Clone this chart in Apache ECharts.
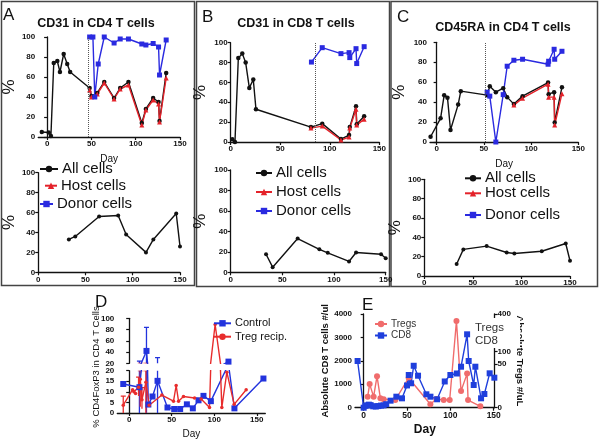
<!DOCTYPE html>
<html><head><meta charset="utf-8">
<script src="https://cdn.jsdelivr.net/npm/echarts@6/dist/echarts.min.js"></script>
<style>html,body{margin:0;padding:0;background:#fff}#c{width:600px;height:440px}</style>
</head><body><div id="c"></div>
<script>
// ---------- DATA ----------
// Panel A (CD31 in CD4 T cells)
const aAllDays  = [-6, 1.8, 4.3, 7.5, 11.5, 14.5, 18.7, 22.7, 26, 48, 50, 56.6, 64.5, 75.6, 82.5, 91.8, 106.9, 111.5, 119.7, 125.8, 126.9, 134.4];
const aAllVals  = [5, 4.5, 1, 74, 76, 65, 83, 73, 65, 49, 41, 44, 55, 39, 49, 55, 14, 28, 39, 35, 16, 64];
const aHostDays = [48, 50, 56.6, 64.5, 75.6, 82.5, 91.8, 106.9, 111.5, 119.7, 125.8, 126.9, 134.4];
const aHostVals = [47, 40, 43, 54, 38, 48, 52, 12, 27, 37, 33, 15, 59];
const aDonorDays = [48, 51.7, 53.8, 57.7, 64.5, 75.6, 82.5, 91.8, 106.9, 111.5, 119.7, 125.8, 126.9, 134.4];
const aDonorVals = [100, 100, 40, 73, 100, 94, 98, 98, 93, 92, 93.5, 90, 62, 97];
const aBotDays = [32.4, 39.2, 64.4, 84.6, 93, 114, 121.8, 146, 150];
const aBotVals = [33, 36, 56, 57, 38, 20, 33, 59, 26];
const aMark = 47;
// Panel B (CD31 in CD8 T cells)
const bAllDays  = [1.6, 4.3, 7.7, 11.7, 15.1, 18.8, 22.8, 25.5, 81, 92.4, 111.3, 119.5, 120.2, 126.5, 127.2, 134.7];
const bAllVals  = [2.7, 0, 84.5, 89, 80, 54.5, 63, 33, 15, 18.5, 3, 7, 15, 36, 18, 26];
const bHostDays = [81, 92.4, 111.3, 119.5, 120.2, 126.5, 127.2, 134.7];
const bHostVals = [14, 16, 2, 5, 14, 33, 17, 23];
const bDonorDays = [81.5, 92.4, 111.3, 119.5, 120.2, 126.5, 127.2, 134.7];
const bDonorVals = [80.5, 95, 89, 90, 85, 94, 79, 96];
const bBotDays = [34.2, 40.6, 64.8, 85.8, 93.9, 114.5, 121.3, 145.5, 150];
const bBotVals = [17.6, 5, 33, 22.5, 19, 10.6, 19.4, 17.6, 13.8];
const bMark = 85.7;
// Panel C (CD45RA in CD4 T cells)
const cAllDays  = [-6.4, 4.2, 8, 11.5, 14.7, 22.8, 25.6, 53.5, 56.3, 62.7, 70.5, 74.7, 81.8, 91, 118, 118.6, 124.4, 125, 132.7];
const cAllVals  = [5.3, 23.7, 47, 44.5, 12, 37.5, 51, 47, 56, 50, 54, 45, 38, 46, 59.6, 48, 50, 19.6, 55];
const cHostDays = [81.8, 91, 118, 118.6, 124.4, 125, 132.7];
const cHostVals = [37, 44, 58, 45, 45, 17, 48.5];
const cDonorDays = [53.5, 56.3, 62.7, 70.5, 74.7, 81.8, 91, 118, 118.6, 124.4, 125, 132.7];
const cDonorVals = [50, 46, 0, 47.5, 76, 82, 83, 78, 81, 93, 83, 91];
const cBotDays = [33.3, 40.2, 64.2, 84.8, 92.7, 120.9, 145.6, 150];
const cBotVals = [12.4, 27.5, 30.9, 24.3, 23.3, 25.6, 33.6, 15.8];
const cMark = 51.2;
// Panel D (% CD4FoxP3 in CD4 T cells)
const dCtrlDays = [-7, 12, 20.3, 22.5, 27.4, 33.3, 45, 52.9, 59.9, 67.8, 74.8, 81.5, 87.3, 96, 116.7, 123.7, 157.8];
const dCtrlVals = [13.7, 12.2, 42, 4, 7.8, 15.2, 2.6, 1.9, 1.9, 4.1, 2.2, 6, 8.1, 5.6, 23, 2.2, 16.3];
const dCtrlErrDays = [12, 20.3, 33.3];
const dCtrlErrLo = [0, 0, 0];
const dCtrlErrHi = [24, 84, 30];
const dTregDays = [-7, 4, 5.5, 7.5, 11, 13, 15, 19.6, 23.5, 38.4, 52.1, 55.2, 58, 63.8, 76.8, 84.6, 94.4, 101, 108.9, 114.8, 123.4, 137.5];
const dTregVals = [3.7, 11, 10, 9.2, 12.2, 16, 6.3, 14.5, 3.7, 8.5, 5.6, 13, 5.6, 7.8, 7.1, 6.6, 2.6, 89, 2.6, 19.3, 4.1, 11];
const dTregErrDays = [-7, 11, 13, 15, 19.6];
const dTregErrLo = [0, 8, 3, 2, 0];
const dTregErrHi = [8, 17, 20, 12, 20];
// Panel E (absolute counts)
const eCd8Days = [-7, 0, 2, 4, 6, 8, 11, 14, 17, 20, 23, 26, 31, 37.7, 44.2, 50, 52, 54.7, 57.7, 62.7, 72.3, 77, 84.7, 93.5, 100, 107.5, 112.3, 119.3, 121.1, 126.9, 128.8, 135.4, 139.2, 145.3, 150.7];
const eCd8Vals = [1994, 0, 80, 100, 130, 110, 60, 50, 70, 90, 100, 150, 300, 470, 400, 950, 1396, 1042, 1790, 1366, 572, 470, 360, 1120, 1396, 1460, 1750, 3133, 1994, 969, 1750, 401, 585, 1468, 1281];
const eTregDays = [4.6, 6.9, 11.5, 15.4, 19.3, 23.1, 36.5, 51.9, 76.9, 83.9, 92.3, 99.2, 107, 112.3, 119.3, 120.4, 134.6];
const eTregVals = [12.6, 27, 12.6, 36, 10.7, 9.6, 8.8, 34, 3.9, 9.9, 8.8, 8.8, 344, 19, 39, 8.8, 1.6];
const eTregTicks = [0, 50, 100, 400];
// broken right axis of panel E: segment breaks (Treg units) and their place on the left scale
const eTregBreaks = [0, 50, 100, 400];
const eTregBreakPos = [0, 1866, 2391, 4000];
const dayTicks = [0, 50, 100, 150];

// ---------- HELPERS ----------
const FONT = '"Liberation Sans", Arial, sans-serif';
const BLACK = '#111', RED = '#e4222a', BLUE = '#2a2ae0';
const zip = (xs, ys) => xs.map((x, i) => [x, ys[i]]);
function tregToLeft(v) {
  for (let i = 1; i < eTregBreaks.length; i++) {
    if (v <= eTregBreaks[i] || i === eTregBreaks.length - 1) {
      const t = (v - eTregBreaks[i-1]) / (eTregBreaks[i] - eTregBreaks[i-1]);
      return eTregBreakPos[i-1] + t * (eTregBreakPos[i] - eTregBreakPos[i-1]);
    }
  }
}
const plain = v => String(v);
const lbl = (size, bold) => ({fontFamily: FONT, fontSize: size, fontWeight: bold ? 'bold' : 'normal', color: '#111', margin: 3, formatter: plain});
function xAx(gi, min, max, extra) {
  return Object.assign({
    type: 'value', gridIndex: gi, min, max,
    axisLine: {lineStyle: {color: '#111', width: 1.3}},
    axisTick: {length: 3, customValues: dayTicks, lineStyle: {color: '#111', width: 1.2}},
    axisLabel: Object.assign(lbl(8, true), {customValues: dayTicks}),
    splitLine: {show: false}
  }, extra || {});
}
function yAx(gi, min, max, interval, extra) {
  return Object.assign({
    type: 'value', gridIndex: gi, min, max, interval,
    axisLine: {show: true, lineStyle: {color: '#111', width: 1.3}},
    axisTick: {show: true, length: 3, lineStyle: {color: '#111', width: 1.2}},
    axisLabel: lbl(8, true),
    splitLine: {show: false}
  }, extra || {});
}
const pctName = gap => ({name: '%', nameLocation: 'middle', nameGap: gap, nameRotate: 90,
  nameTextStyle: {fontFamily: FONT, fontSize: 17, color: '#111'}});
const dayName = gap => ({name: 'Day', nameLocation: 'middle', nameGap: gap,
  nameTextStyle: {fontFamily: FONT, fontSize: 10, color: '#111'}});

function ln(name, idx, xs, ys, color, symbol, size, extra) {
  return Object.assign({
    type: 'line', name, xAxisIndex: idx, yAxisIndex: idx, data: zip(xs, ys),
    symbol, symbolSize: size, itemStyle: {color}, lineStyle: {color, width: 1.4},
    animation: false, clip: true
  }, extra || {});
}
const mark = v => ({markLine: {silent: true, symbol: ['none', 'none'], label: {show: false},
  lineStyle: {type: 'dotted', color: '#555', width: 1}, data: [{xAxis: v}], animation: false}});

function errRender(params, api) {
  const x = api.value(0), lo = api.value(1), hi = api.value(2);
  const p1 = api.coord([x, lo]), p2 = api.coord([x, hi]);
  const st = {stroke: api.visual('color'), lineWidth: 1.3};
  return {type: 'group', children: [
    {type: 'line', shape: {x1: p1[0], y1: p1[1], x2: p2[0], y2: p2[1]}, style: st},
    {type: 'line', shape: {x1: p2[0] - 2.5, y1: p2[1], x2: p2[0] + 2.5, y2: p2[1]}, style: st}
  ]};
}
function err(idx, days, lo, hi, color) {
  return {type: 'custom', name: 'err' + idx + color, xAxisIndex: idx, yAxisIndex: idx, clip: true,
    renderItem: errRender, itemStyle: {color}, animation: false,
    encode: {x: 0, y: [1, 2]}, data: days.map((d, i) => [d, lo[i], hi[i]])};
}
function lg(name, left, cy, iw, fs, col) {
  return {data: [name], left, top: cy - fs / 2, orient: 'vertical', padding: 0, itemWidth: iw, itemHeight: 8,
    selectedMode: false, textStyle: {fontFamily: FONT, fontSize: fs, color: col || '#111', padding: [0,0,0,-1]}};
}

// ---------- OPTION ----------
const grids = [
  {left: 32, top: 37, width: 148, height: 100},        // 0 A top
  {left: 31, top: 172.7, width: 149, height: 99.6},    // 1 A bottom
  {left: 230.7, top: 42.7, width: 148.6, height: 99.3},// 2 B top
  {left: 230.7, top: 170, width: 155, height: 102.3},  // 3 B bottom
  {left: 430, top: 42.3, width: 148.3, height: 99.7},  // 4 C top
  {left: 424.3, top: 179.3, width: 145.7, height: 96.7},// 5 C bottom
  {left: 117.3, top: 370.7, width: 148, height: 45.3}, // 6 D lower
  {left: 117.3, top: 318.3, width: 148, height: 45},   // 7 D upper
  {left: 355, top: 314, width: 139.6, height: 93.7}    // 8 E
];

const xAxis = [
  xAx(0, -10, 150, dayName(17)),
  xAx(1, 0, 150),
  xAx(2, 0, 150),
  xAx(3, 0, 150),
  xAx(4, -7, 150, dayName(17)),
  xAx(5, 0, 150),
  xAx(6, -14, 160, {name: 'Day', nameLocation: 'middle', nameGap: 16, nameTextStyle: {fontFamily: FONT, fontSize: 10, color: '#111'}}),
  xAx(7, -14, 160, {show: false}),
  xAx(8, -10, 151, {name: 'Day', nameLocation: 'middle', nameGap: 16,
    nameTextStyle: {fontFamily: FONT, fontSize: 12, fontWeight: 'bold', color: '#111'},
    axisLabel: Object.assign(lbl(8.5, true), {customValues: dayTicks})})
];
const yAxis = [
  yAx(0, 0, 100, 20, pctName(19)),
  yAx(1, 0, 100, 20, pctName(20)),
  yAx(2, 0, 100, 20, pctName(22)),
  yAx(3, 0, 100, 20, pctName(22)),
  yAx(4, 0, 100, 20, pctName(22)),
  yAx(5, 0, 100, 20, pctName(20)),
  yAx(6, 0, 20, 5),
  yAx(7, 20, 100, 20),
  yAx(8, 0, 4000, 1000, {name: 'Absolute CD8 T cells #/ul', nameLocation: 'middle', nameGap: 22, nameRotate: 90,
    nameTextStyle: {fontFamily: FONT, fontSize: 9.5, fontWeight: 'bold', color: '#111'}}),
  yAx(8, 0, 4000, null, {position: 'right',
    axisTick: {show: true, length: 3, customValues: eTregTicks.map(tregToLeft), lineStyle: {color: '#111', width: 1.2}},
    axisLabel: Object.assign(lbl(8, true), {customValues: eTregTicks.map(tregToLeft),
      formatter: v => { const i = eTregTicks.map(tregToLeft).findIndex(p => Math.abs(p - v) < 1); return i >= 0 ? String(eTregTicks[i]) : ''; }}),
    name: 'Absolute Tregs #/uL', nameLocation: 'middle', nameGap: 14, nameRotate: -90,
    nameTextStyle: {fontFamily: FONT, fontSize: 9.5, fontWeight: 'bold', color: '#111'}})
];

const series = [
  // A
  ln('All cells', 0, aAllDays, aAllVals, BLACK, 'circle', 4.5),
  ln('Host cells', 0, aHostDays, aHostVals, RED, 'triangle', 5),
  ln('Donor cells', 0, aDonorDays, aDonorVals, BLUE, 'rect', 5, mark(aMark)),
  ln('All cells', 1, aBotDays, aBotVals, BLACK, 'circle', 4),
  // B
  ln('All cells', 2, bAllDays, bAllVals, BLACK, 'circle', 4.5),
  ln('Host cells', 2, bHostDays, bHostVals, RED, 'triangle', 5),
  ln('Donor cells', 2, bDonorDays, bDonorVals, BLUE, 'rect', 5, mark(bMark)),
  ln('All cells', 3, bBotDays, bBotVals, BLACK, 'circle', 4),
  // C
  ln('All cells', 4, cAllDays, cAllVals, BLACK, 'circle', 4.5),
  ln('Host cells', 4, cHostDays, cHostVals, RED, 'triangle', 5),
  ln('Donor cells', 4, cDonorDays, cDonorVals, BLUE, 'rect', 5, mark(cMark)),
  ln('All cells', 5, cBotDays, cBotVals, BLACK, 'circle', 4),
  // D (lower + upper segment of the broken axis)
  err(6, dCtrlErrDays, dCtrlErrLo, dCtrlErrHi, '#2233dd'),
  err(7, dCtrlErrDays, dCtrlErrLo, dCtrlErrHi, '#2233dd'),
  err(6, dTregErrDays, dTregErrLo, dTregErrHi, '#e82c2c'),
  err(7, dTregErrDays, dTregErrLo, dTregErrHi, '#e82c2c'),
  ln('Control', 6, dCtrlDays, dCtrlVals, '#2233dd', 'rect', 6),
  ln('Control', 7, dCtrlDays, dCtrlVals, '#2233dd', 'rect', 6),
  ln('Treg recip.', 6, dTregDays, dTregVals, '#e82c2c', 'circle', 3.5),
  ln('Treg recip.', 7, dTregDays, dTregVals, '#e82c2c', 'circle', 3.5),
  // E
  Object.assign(ln('Tregs', 8, eTregDays, eTregVals.map(tregToLeft), '#f06c6c', 'circle', 6), {yAxisIndex: 9}),
  ln('CD8', 8, eCd8Days, eCd8Vals, '#1f3fdc', 'rect', 6)
];

const legend = [
  lg('All cells', 39, 169, 18, 15), lg('Host cells', 44, 185.7, 12, 15), lg('Donor cells', 39, 204, 13, 15),
  lg('All cells', 255, 173, 16, 15), lg('Host cells', 255, 192, 16, 15), lg('Donor cells', 255, 211, 16, 15),
  lg('All cells', 464, 178.3, 16, 15), lg('Host cells', 464, 193.3, 16, 15), lg('Donor cells', 464, 215, 16, 15),
  lg('Control', 213, 323.3, 17, 11), lg('Treg recip.', 213, 336.7, 17, 11),
  lg('Tregs', 374, 324, 12, 10, '#333'), lg('CD8', 374, 335.5, 12, 10, '#333')
];

const T = (text, x, y, size, extra) => ({type: 'text', x, y, silent: true,
  style: Object.assign({text, font: size + 'px ' + FONT, fill: '#111', textAlign: 'left', textVerticalAlign: 'middle'}, extra || {})});
const box = (x1, y1, x2, y2) => ({type: 'rect', silent: true, shape: {x: x1, y: y1, width: x2 - x1, height: y2 - y1},
  style: {fill: 'none', stroke: '#444', lineWidth: 1.5}});

const graphic = [
  box(1.5, 1.5, 194.5, 285.5), box(196.5, 1.5, 389.5, 286.5), box(391, 1.5, 597.5, 286.5),
  T('A', 3, 15, 17), T('B', 202, 17, 17), T('C', 397, 17, 17),
  T('D', 95, 302, 17), T('E', 362, 305, 17),
  T('CD31 in CD4 T cells', 96, 23.3, 12.5, {textAlign: 'center', font: 'bold 12.5px ' + FONT}),
  T('CD31 in CD8 T cells', 296, 23.3, 12.5, {textAlign: 'center', font: 'bold 12.5px ' + FONT}),
  T('CD45RA in CD4 T cells', 503, 28, 12.5, {textAlign: 'center', font: 'bold 12.5px ' + FONT}),
  {type: 'text', x: 96.5, y: 367, rotation: Math.PI / 2, silent: true,
    style: {text: '% CD4FoxP3 in CD4 T Cells', font: '9.5px ' + FONT, fill: '#111', textAlign: 'center', textVerticalAlign: 'middle'}},
  {type: 'rect', silent: true, z: 100, shape: {x: 472, y: 318, width: 48, height: 30}, style: {fill: '#fff'}},
  {type: 'text', z: 101, x: 475, y: 327.7, silent: true, style: {text: 'Tregs', font: '11.5px ' + FONT, fill: '#333', textVerticalAlign: 'middle'}},
  {type: 'text', z: 101, x: 475, y: 341, silent: true, style: {text: 'CD8', font: '11.5px ' + FONT, fill: '#333', textVerticalAlign: 'middle'}}
];

const chart = echarts.init(document.getElementById('c'), null, {renderer: 'canvas'});
chart.setOption({animation: false, backgroundColor: '#fff', grid: grids, xAxis, yAxis, series, legend, graphic});
</script></body></html>
